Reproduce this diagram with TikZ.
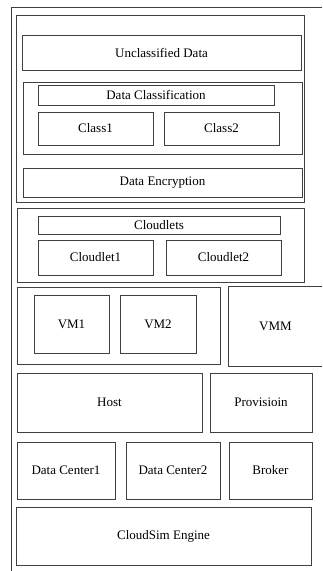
\documentclass[tikz,border=0pt]{standalone}
\usepackage{fontspec}
\setmainfont{Liberation Serif}
\usepackage{tikz}
\usetikzlibrary{positioning}

\tikzset{
  blk/.style={draw=black!75, line width=0.9pt, inner sep=0pt, align=center,
              font=\fontsize{13}{15}\selectfont},
}

\begin{document}
\begin{tikzpicture}[x=1pt,y=-1pt]
  \useasboundingbox (0,0) rectangle (322,571);
  \draw[black!75, line width=0.9pt] (11,571) |- (322,7);

  % data part
  \node[blk, minimum width=287.5, minimum height=187] (dataGrp) at (160.25,108.5) {};
  \node[blk, minimum width=279, minimum height=34.5] (unclass) at (161.5,52.75) {Unclassified Data};
  \node[blk, minimum width=279, minimum height=72] (classGrp) at (162.5,118) {};
  \node[blk, minimum width=236, minimum height=20] (classTitle) at (156,95) {Data Classification};
  \node[blk, minimum width=115, minimum height=33] (class1) at (95.5,128.5) {Class1};
  \node[blk, minimum width=115, minimum height=33] (class2) at (221.5,128.5) {Class2};
  \node[blk, minimum width=279, minimum height=29] (encrypt) at (162.5,182.5) {Data Encryption};

  % cloudlets
  \node[blk, minimum width=287, minimum height=74] (cloudGrp) at (160.5,245) {};
  \node[blk, minimum width=242, minimum height=18] (cloudTitle) at (159,225) {Cloudlets};
  \node[blk, minimum width=115, minimum height=35] (cloudlet1) at (95.5,257.5) {Cloudlet1};
  \node[blk, minimum width=115, minimum height=35] (cloudlet2) at (223.5,257.5) {Cloudlet2};

  % virtual machines
  \node[blk, minimum width=203, minimum height=77] (vmGrp) at (118.5,325.5) {};
  \node[blk, minimum width=75, minimum height=58] (vm1) at (71.5,324) {VM1};
  \node[blk, minimum width=76, minimum height=58] (vm2) at (158,324) {VM2};
  \node[blk, draw=none, minimum width=93, minimum height=79] (vmm) at (275.5,326.5) {VMM};
  \draw[black!75, line width=0.9pt] (vmm.north east) -- (vmm.north west) -- (vmm.south west) -- (vmm.south east);

  % hosts
  \node[blk, minimum width=185, minimum height=59] (host) at (109.5,402.5) {Host};
  \node[blk, minimum width=102, minimum height=59] (prov) at (261,402.5) {Provisioin};

  % data centers
  \node[blk, minimum width=98, minimum height=57] (dc1) at (66,470.5) {Data Center1};
  \node[blk, minimum width=94, minimum height=57] (dc2) at (173,470.5) {Data Center2};
  \node[blk, minimum width=83, minimum height=57] (broker) at (270.5,470.5) {Broker};

  \node[blk, minimum width=295, minimum height=58] (engine) at (163.5,536) {CloudSim Engine};
\end{tikzpicture}
\end{document}
